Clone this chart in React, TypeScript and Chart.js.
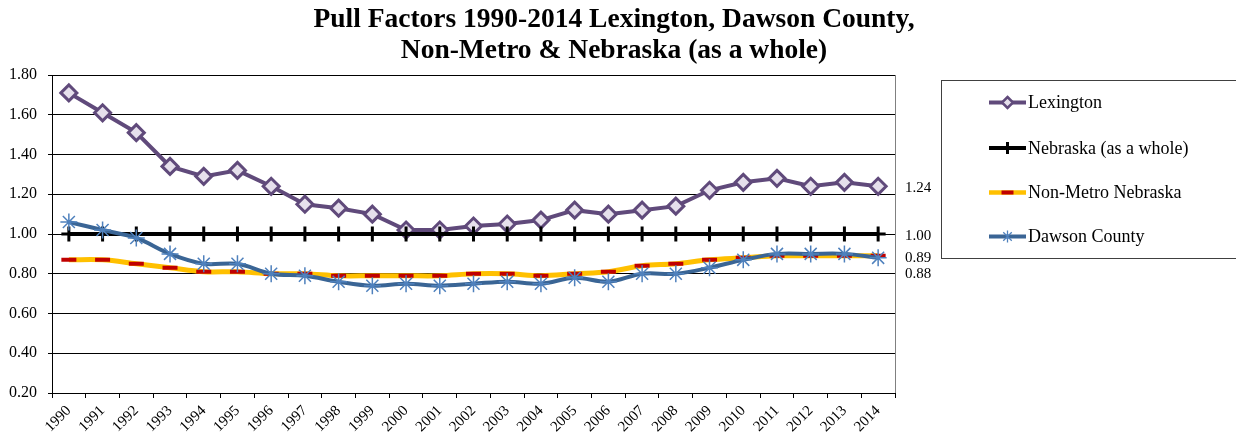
import React, { useEffect, useRef } from 'react';
import { Chart, registerables } from 'chart.js';

Chart.register(...registerables);

const years = ['1990', '1991', '1992', '1993', '1994', '1995', '1996', '1997', '1998', '1999', '2000', '2001', '2002', '2003', '2004', '2005', '2006', '2007', '2008', '2009', '2010', '2011', '2012', '2013', '2014'];
const lexington = [1.71, 1.61, 1.51, 1.34, 1.29, 1.32, 1.24, 1.15, 1.13, 1.10, 1.02, 1.02, 1.04, 1.05, 1.07, 1.12, 1.10, 1.12, 1.14, 1.22, 1.26, 1.28, 1.24, 1.26, 1.24];
const nebraska = [1.00, 1.00, 1.00, 1.00, 1.00, 1.00, 1.00, 1.00, 1.00, 1.00, 1.00, 1.00, 1.00, 1.00, 1.00, 1.00, 1.00, 1.00, 1.00, 1.00, 1.00, 1.00, 1.00, 1.00, 1.00];
const nonMetro = [0.87, 0.87, 0.85, 0.83, 0.81, 0.81, 0.80, 0.80, 0.79, 0.79, 0.79, 0.79, 0.80, 0.80, 0.79, 0.80, 0.81, 0.84, 0.85, 0.87, 0.88, 0.89, 0.89, 0.89, 0.89];
const dawson = [1.06, 1.02, 0.98, 0.90, 0.85, 0.85, 0.80, 0.79, 0.76, 0.74, 0.75, 0.74, 0.75, 0.76, 0.75, 0.78, 0.76, 0.80, 0.80, 0.83, 0.87, 0.90, 0.90, 0.90, 0.88];
const seriesNames = ['Lexington', 'Nebraska (as a whole)', 'Non-Metro Nebraska', 'Dawson County'];
const endLabels = ['1.24', '1.00', '0.89', '0.88'];
const titleLines = ['Pull Factors 1990-2014 Lexington, Dawson County,', 'Non-Metro & Nebraska (as a whole)'];

const FONT = "'Liberation Serif', 'Times New Roman', serif";
const PURPLE = '#604A7B';
const LAVENDER = '#E6E0EC';
const YELLOW = '#FFC000';
const RED = '#C00000';
const BLUE_LINE = '#3A6595';
const BLUE_MARK = '#4F81BD';

function drawMarker(ctx: CanvasRenderingContext2D, kind: number, x: number, y: number) {
  ctx.save();
  if (kind === 0) {
    const r = 5.5;
    ctx.beginPath();
    ctx.moveTo(x, y - r);
    ctx.lineTo(x + r, y);
    ctx.lineTo(x, y + r);
    ctx.lineTo(x - r, y);
    ctx.closePath();
    ctx.fillStyle = LAVENDER;
    ctx.fill();
    ctx.strokeStyle = PURPLE;
    ctx.lineWidth = 2.5;
    ctx.stroke();
  } else if (kind === 1) {
    ctx.strokeStyle = '#000';
    ctx.lineWidth = 3;
    ctx.beginPath();
    ctx.moveTo(x, y - 6);
    ctx.lineTo(x, y + 6);
    ctx.stroke();
  } else if (kind === 2) {
    ctx.strokeStyle = RED;
    ctx.lineWidth = 4;
    ctx.beginPath();
    ctx.moveTo(x - 6, y);
    ctx.lineTo(x + 6, y);
    ctx.stroke();
  } else {
    const r = 6;
    ctx.strokeStyle = BLUE_MARK;
    ctx.lineWidth = 1.3;
    ctx.beginPath();
    ctx.moveTo(x, y - r);
    ctx.lineTo(x, y + r);
    const d = r * Math.SQRT1_2;
    ctx.moveTo(x - d, y - d);
    ctx.lineTo(x + d, y + d);
    ctx.moveTo(x - d, y + d);
    ctx.lineTo(x + d, y - d);
    ctx.stroke();
  }
  ctx.restore();
}

export default function App() {
  const ref = useRef<HTMLCanvasElement>(null);

  useEffect(() => {
    const canvas = ref.current;
    if (!canvas) return;

    const overlay = {
      id: 'overlay',
      afterDraw(chart: any) {
        const ctx: CanvasRenderingContext2D = chart.ctx;
        const area = chart.chartArea;
        const yScale = chart.scales.y;
        ctx.save();

        // Title
        ctx.fillStyle = '#000';
        ctx.font = `bold 27.5px ${FONT}`;
        ctx.textAlign = 'center';
        ctx.textBaseline = 'alphabetic';
        ctx.fillText(titleLines[0], 614, 27);
        ctx.fillText(titleLines[1], 614, 58);

        // Plot area right border
        ctx.strokeStyle = '#808080';
        ctx.lineWidth = 1;
        ctx.beginPath();
        ctx.moveTo(Math.round(area.right) + 0.5, area.top);
        ctx.lineTo(Math.round(area.right) + 0.5, area.bottom);
        ctx.stroke();

        // End labels
        const lastVals = [lexington, nebraska, nonMetro, dawson].map((a) => a[a.length - 1]);
        ctx.font = `15px ${FONT}`;
        ctx.textAlign = 'left';
        ctx.textBaseline = 'middle';
        let prev = -Infinity;
        lastVals.forEach((v, i) => {
          let y = yScale.getPixelForValue(v) + 2;
          if (y < prev + 16.5) y = prev + 16.5;
          prev = y;
          ctx.fillText(endLabels[i], area.right + 10, y);
        });

        // Legend
        const boxL = 941.5;
        const boxT = 80.5;
        const boxB = 258.5;
        ctx.strokeStyle = '#404040';
        ctx.lineWidth = 1;
        ctx.strokeRect(boxL, boxT, 400, boxB - boxT);
        const rows = [102.5, 148, 192.5, 236.5];
        const lineCols = [PURPLE, '#000', YELLOW, BLUE_LINE];
        const lineW = [4, 4, 4.5, 4];
        rows.forEach((ry, i) => {
          ctx.strokeStyle = lineCols[i];
          ctx.lineWidth = lineW[i];
          ctx.lineCap = 'butt';
          ctx.beginPath();
          ctx.moveTo(989, ry);
          ctx.lineTo(1026, ry);
          ctx.stroke();
          drawMarker(ctx, i, 1007.5, ry);
          ctx.fillStyle = '#000';
          ctx.font = `18px ${FONT}`;
          ctx.textAlign = 'left';
          ctx.textBaseline = 'middle';
          ctx.fillText(seriesNames[i], 1028, ry + 1);
        });

        ctx.restore();
      },
    };

    const chart = new Chart(canvas, {
      type: 'line',
      data: {
        labels: years,
        datasets: [
          {
            label: seriesNames[0],
            data: lexington,
            borderColor: PURPLE,
            borderWidth: 4,
            pointStyle: 'rectRot',
            pointRadius: 8,
            pointBackgroundColor: LAVENDER,
            pointBorderColor: PURPLE,
            pointBorderWidth: 3,
            tension: 0,
            order: 4,
          },
          {
            label: seriesNames[1],
            data: nebraska,
            borderColor: '#000',
            borderWidth: 4,
            pointStyle: 'cross',
            pointRadius: 7.5,
            pointBorderColor: '#000',
            pointBorderWidth: 3,
            tension: 0,
            order: 3,
          },
          {
            label: seriesNames[2],
            data: nonMetro,
            borderColor: YELLOW,
            borderWidth: 5,
            pointStyle: 'line',
            pointRadius: 7.5,
            pointBorderColor: RED,
            pointBorderWidth: 4,
            tension: 0.35,
            order: 2,
          },
          {
            label: seriesNames[3],
            data: dawson,
            borderColor: BLUE_LINE,
            borderWidth: 4,
            pointStyle: 'star',
            pointRadius: 8.5,
            pointBorderColor: BLUE_MARK,
            pointBorderWidth: 1.5,
            tension: 0.35,
            order: 1,
          },
        ] as any,
      },
      options: {
        responsive: false,
        animation: false,
        devicePixelRatio: 1,
        layout: { padding: { left: 0, top: 75, right: 341, bottom: 0 } },
        plugins: {
          legend: { display: false },
          title: { display: false },
          tooltip: { enabled: false },
        },
        scales: {
          x: {
            type: 'category',
            offset: true,
            grid: {
              display: true,
              drawOnChartArea: false,
              drawTicks: true,
              tickLength: 5,
              color: '#000',
              offset: true,
            },
            border: { display: true, color: '#000', width: 1 },
            ticks: {
              autoSkip: false,
              maxRotation: 45,
              minRotation: 45,
              font: { family: FONT, size: 15 },
              color: '#000',
              padding: 4,
            },
            afterFit: (s: any) => {
              s.height = 45;
            },
          },
          y: {
            min: 0.2,
            max: 1.8,
            ticks: {
              stepSize: 0.2,
              callback: (v: any) => Number(v).toFixed(2),
              font: { family: FONT, size: 16 },
              color: '#000',
              padding: 11,
            },
            grid: { color: '#000', lineWidth: 1, tickLength: 4, drawTicks: true },
            border: { display: true, color: '#000', width: 1 },
            afterFit: (s: any) => {
              s.width = 52;
            },
          },
        },
      } as any,
      plugins: [overlay],
    });

    return () => chart.destroy();
  }, []);

  return (
    <div style={{ position: 'absolute', left: 0, top: 0, width: 1236, height: 438, background: '#fff' }}>
      <canvas ref={ref} width={1236} height={438} style={{ display: 'block' }} />
    </div>
  );
}
